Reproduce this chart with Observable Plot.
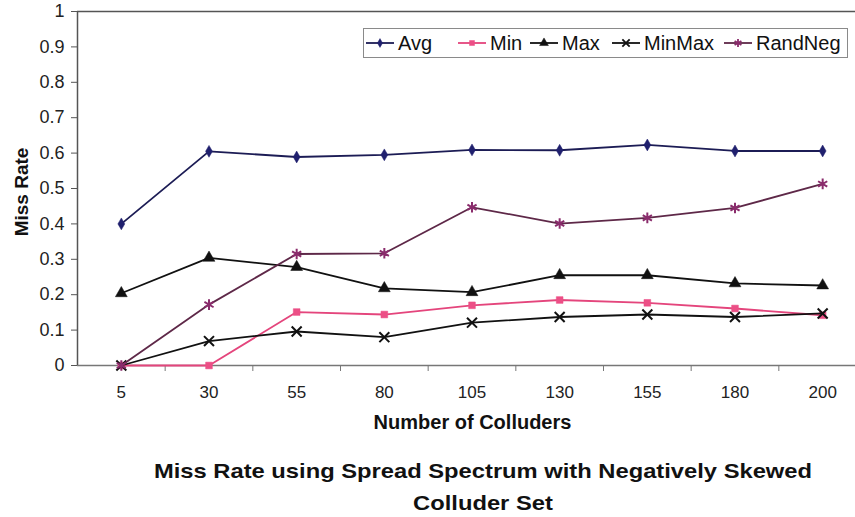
<!DOCTYPE html>
<html>
<head>
<meta charset="utf-8">
<script src="https://cdn.jsdelivr.net/npm/d3@7"></script>
<script src="https://cdn.jsdelivr.net/npm/@observablehq/plot@0.6"></script>
<style>
  html, body { margin: 0; padding: 0; background: #fff; }
  body { width: 855px; height: 517px; position: relative; overflow: hidden; font-family: "Liberation Sans", Arial, sans-serif; }
  #chart { position: absolute; left: 0; top: 0; }
  #legend { position: absolute; left: 363px; top: 28px; width: 485px; height: 30px; border: 1px solid #8a8a8a; background: #fff;
            font-size: 20px; color: #111; box-sizing: border-box; }
  #legend .item { position: absolute; top: 0; height: 28px; display: flex; align-items: center; }
  #legend svg { margin-right: 4px; }
  #ylabel { position: absolute; left: 22px; top: 192px; transform: translate(-50%, -50%) rotate(-90deg); font-weight: bold; font-size: 19px; color: #111; white-space: nowrap; }
  #title { position: absolute; left: 111px; width: 744px; top: 455px; text-align: center; font-weight: bold; font-size: 21px; line-height: 32px; color: #111; transform: scaleX(1.13); transform-origin: 372px 0; }
</style>
</head>
<body>
<div id="chart"></div>
<div id="legend"></div>
<div id="ylabel">Miss Rate</div>
<div id="title">Miss Rate using Spread Spectrum with Negatively Skewed<br>Colluder Set</div>
<script>
// ---- data ----
const colluders = ["5", "30", "55", "80", "105", "130", "155", "180", "200"];
const avg     = [0.40, 0.605, 0.589, 0.595, 0.609, 0.608, 0.623, 0.606, 0.606];
const minS    = [0.0, 0.0, 0.151, 0.144, 0.170, 0.185, 0.177, 0.161, 0.142];
const maxS    = [0.204, 0.304, 0.278, 0.218, 0.207, 0.255, 0.255, 0.232, 0.226];
const minMax  = [0.0, 0.069, 0.096, 0.080, 0.121, 0.137, 0.144, 0.137, 0.147];
const randNeg = [0.0, 0.172, 0.315, 0.317, 0.447, 0.401, 0.417, 0.445, 0.513];
const yTicks  = [0, 0.1, 0.2, 0.3, 0.4, 0.5, 0.6, 0.7, 0.8, 0.9, 1];
const seriesNames = ["Avg", "Min", "Max", "MinMax", "RandNeg"];

// ---- styles ----
const styles = {
  Avg:     {line: "#1c1c55", marker: "#20206e", symbol: "diamond",  fill: true,  r: 3.6},
  Min:     {line: "#e4457c", marker: "#ec4f86", symbol: "square",   fill: true,  r: 3.8},
  Max:     {line: "#111111", marker: "#111111", symbol: "triangle", fill: true,  r: 4.4},
  MinMax:  {line: "#111111", marker: "#111111", symbol: "times",    fill: false, r: 4.6},
  RandNeg: {line: "#5e2848", marker: "#8a2c6c", symbol: "asterisk", fill: false, r: 5.0}
};
const seriesValues = {Avg: avg, Min: minS, Max: maxS, MinMax: minMax, RandNeg: randNeg};
// legend item left offsets inside the box (layout only)
const legendLeft = {Avg: 2, Min: 94, Max: 166, MinMax: 248, RandNeg: 360};

const rows = seriesNames.flatMap(s => seriesValues[s].map((v, i) => ({series: s, i, v})));
const idx = colluders.map((c, i) => i);
const bounds = colluders.slice(1).map((c, i) => i + 0.5);

const marks = [
  Plot.ruleY([0], {stroke: "#777", strokeWidth: 1.5}),
  Plot.ruleY([1], {stroke: "#555", strokeWidth: 1.5}),
  Plot.ruleX([-0.5], {stroke: "#555", strokeWidth: 1.5}),
  Plot.axisY({ticks: yTicks, tickSize: 6, tickPadding: 7, tickFormat: d => String(+d.toFixed(1)), stroke: "#555", fontSize: 18, fill: "#222", label: null}),
  Plot.axisX({ticks: bounds, tickSize: 6, tickFormat: () => "", stroke: "#777", label: null}),
  Plot.axisX({ticks: idx, tickSize: 0, tickPadding: 20, tickFormat: i => colluders[i], fontSize: 17, fill: "#222", label: null}),
  Plot.text(["Number of Colluders"], {frameAnchor: "bottom", dx: 6, dy: 63, fontWeight: "bold", fontSize: 20, fill: "#111"})
];
for (const s of seriesNames) {
  const st = styles[s];
  const data = rows.filter(d => d.series === s);
  marks.push(Plot.line(data, {x: "i", y: "v", stroke: st.line, strokeWidth: 1.8}));
  marks.push(Plot.dot(data, {x: "i", y: "v", symbol: () => st.symbol, r: st.r,
    fill: st.fill ? st.marker : "none", stroke: st.marker, strokeWidth: st.fill ? 0.5 : 2}));
}

const chart = Plot.plot({
  width: 855,
  height: 440,
  marginLeft: 77,
  marginRight: 0,
  marginTop: 11,
  marginBottom: 75,
  style: {fontFamily: "'Liberation Sans', Arial, sans-serif", background: "white", overflow: "hidden"},
  x: {type: "linear", domain: [-0.5, 8.5], range: [77, 866]},
  y: {domain: [0, 1], range: [365, 11]},
  symbol: {type: "identity"},
  marks
});
document.getElementById("chart").appendChild(chart);

// ---- legend ----
const legend = d3.select("#legend");
const symMap = {diamond: d3.symbolDiamond, square: d3.symbolSquare, triangle: d3.symbolTriangle, times: d3.symbolTimes, asterisk: d3.symbolAsterisk};
for (const s of seriesNames) {
  const st = styles[s];
  const item = legend.append("div").attr("class", "item").style("left", legendLeft[s] + "px");
  const svg = item.append("svg").attr("width", 28).attr("height", 14);
  svg.append("line").attr("x1", 0).attr("x2", 28).attr("y1", 7).attr("y2", 7).attr("stroke", st.line).attr("stroke-width", 1.8);
  const size = Math.PI * st.r * st.r * 0.55;
  svg.append("path").attr("transform", "translate(14,7)")
    .attr("d", d3.symbol(symMap[st.symbol], size)())
    .attr("fill", st.fill ? st.marker : "none").attr("stroke", st.marker).attr("stroke-width", st.fill ? 0.5 : 1.8);
  item.append("span").text(s);
}
</script>
</body>
</html>
